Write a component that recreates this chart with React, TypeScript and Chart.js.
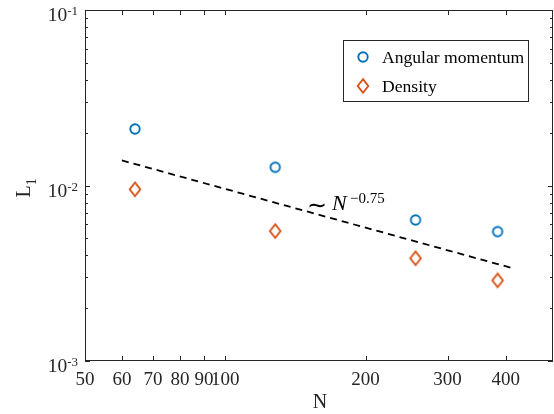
import { useEffect, useRef } from "react";
import { Chart, registerables } from "chart.js";
Chart.register(...registerables);

const N_VALUES = [64, 128, 256, 384];
const ANGULAR_MOMENTUM = [0.021, 0.0127, 0.00636, 0.00546];
const DENSITY = [0.00951, 0.0055, 0.00385, 0.00288];
const FIT_N = [60, 410];
const FIT_L1 = [0.0139, 0.0034];
const X_TICKS = [50, 60, 70, 80, 90, 100, 200, 300, 400];
const Y_TICKS = [0.001, 0.01, 0.1];
const Y_TICK_EXP = ["-3", "-2", "-1"];
const X_MIN = 50;
const X_MAX = 505;
const Y_MIN = 0.001;
const Y_MAX = 0.1;

const BLUE = "#0072BD";
const ORANGE = "#D95319";
const AXIS = "#262626";
const SERIF = "'Liberation Serif', 'Times New Roman', serif";

function makeDiamond(): HTMLCanvasElement {
  const c = document.createElement("canvas");
  c.width = 16;
  c.height = 18;
  const g = c.getContext("2d")!;
  g.strokeStyle = ORANGE;
  g.lineWidth = 1.9;
  g.beginPath();
  g.moveTo(8, 2.2);
  g.lineTo(13.3, 9);
  g.lineTo(8, 15.8);
  g.lineTo(2.7, 9);
  g.closePath();
  g.stroke();
  return c;
}

function makeCircle(): HTMLCanvasElement {
  const c = document.createElement("canvas");
  c.width = 14;
  c.height = 14;
  const g = c.getContext("2d")!;
  g.strokeStyle = BLUE;
  g.lineWidth = 1.9;
  g.beginPath();
  g.arc(7, 7, 4.7, 0, Math.PI * 2);
  g.stroke();
  return c;
}

export default function App() {
  const ref = useRef<HTMLCanvasElement | null>(null);

  useEffect(() => {
    document.body.style.margin = "0";
    const canvas = ref.current;
    if (!canvas) return;
    const diamond = makeDiamond();
    const circle = makeCircle();

    const decor = {
      id: "decor",
      afterDatasetsDraw(chart: any) {
        const ctx = chart.ctx as CanvasRenderingContext2D;
        const { left, right, top, bottom } = chart.chartArea;
        const xs = chart.scales.x;
        const ys = chart.scales.y;
        ctx.save();
        ctx.strokeStyle = AXIS;
        ctx.lineWidth = 1;
        ctx.strokeRect(left + 0.5, top + 0.5, right - left - 1, bottom - top - 1);
        // x ticks
        ctx.beginPath();
        for (const t of X_TICKS) {
          const px = Math.round(xs.getPixelForValue(t)) + 0.5;
          ctx.moveTo(px, bottom);
          ctx.lineTo(px, bottom - 5);
          ctx.moveTo(px, top);
          ctx.lineTo(px, top + 5);
        }
        // y ticks
        for (let d = -3; d <= -1; d++) {
          for (let m = 1; m <= 9; m++) {
            const v = m * Math.pow(10, d);
            if (v > Y_MAX * 1.0001) continue;
            const py = Math.round(ys.getPixelForValue(v)) + 0.5;
            const len = m === 1 ? 5 : 3;
            ctx.moveTo(left, py);
            ctx.lineTo(left + len, py);
            ctx.moveTo(right, py);
            ctx.lineTo(right - len, py);
          }
        }
        ctx.stroke();

        // x tick labels
        ctx.fillStyle = AXIS;
        ctx.font = `19px ${SERIF}`;
        ctx.textAlign = "center";
        ctx.textBaseline = "alphabetic";
        for (const t of X_TICKS) {
          ctx.fillText(String(t), xs.getPixelForValue(t), 385);
        }
        // y tick labels
        Y_TICKS.forEach((v, i) => {
          const py = ys.getPixelForValue(v);
          ctx.font = `13px ${SERIF}`;
          ctx.textAlign = "right";
          ctx.fillText(Y_TICK_EXP[i], 78, py + 5);
          const ew = ctx.measureText(Y_TICK_EXP[i]).width;
          ctx.font = `19.5px ${SERIF}`;
          ctx.fillText("10", 78 - ew, py + 11);
        });

        // axis titles
        ctx.textAlign = "center";
        ctx.font = `20px ${SERIF}`;
        ctx.fillText("N", 320, 408);
        ctx.save();
        ctx.translate(33, (top + bottom) / 2);
        ctx.rotate(-Math.PI / 2);
        ctx.textAlign = "left";
        ctx.font = `20px ${SERIF}`;
        ctx.fillText("L", -12, -3);
        const lw = ctx.measureText("L").width;
        ctx.font = `14px ${SERIF}`;
        ctx.fillText("1", -12 + lw, 3);
        ctx.restore();

        // annotation
        ctx.fillStyle = "#000";
        ctx.textAlign = "left";
        ctx.font = `24px ${SERIF}`;
        ctx.fillText("\u223C", 307, 213);
        ctx.font = `italic 22px ${SERIF}`;
        ctx.fillText("N", 332, 210);
        ctx.font = `15px ${SERIF}`;
        ctx.fillText("\u22120.75", 350, 203);

        // legend
        const lx = 343, ly = 40, lw2 = 185, lh = 61;
        ctx.fillStyle = "#fff";
        ctx.fillRect(lx, ly, lw2, lh);
        ctx.strokeStyle = AXIS;
        ctx.lineWidth = 1;
        ctx.strokeRect(lx + 0.5, ly + 0.5, lw2, lh);
        ctx.drawImage(circle, 363 - 7, 57 - 7);
        ctx.drawImage(diamond, 363 - 8, 86 - 9);
        ctx.fillStyle = "#000";
        ctx.font = `17.6px ${SERIF}`;
        ctx.textAlign = "left";
        ctx.fillText("Angular momentum", 382, 63);
        ctx.fillText("Density", 382, 92);
        ctx.restore();
      },
    };

    const chart = new Chart(canvas, {
      type: "scatter",
      data: {
        datasets: [
          {
            label: "Angular momentum",
            data: N_VALUES.map((n, i) => ({ x: n, y: ANGULAR_MOMENTUM[i] })),
            pointStyle: circle as any,
            pointRadius: 5,
          },
          {
            label: "Density",
            data: N_VALUES.map((n, i) => ({ x: n, y: DENSITY[i] })),
            pointStyle: diamond as any,
            pointRadius: 6,
          },
          {
            type: "line" as any,
            label: "fit",
            data: FIT_N.map((n, i) => ({ x: n, y: FIT_L1[i] })),
            borderColor: "#000",
            borderWidth: 1.8,
            borderDash: [7, 5],
            pointRadius: 0,
            showLine: true,
            fill: false,
          } as any,
        ],
      },
      options: {
        responsive: false,
        maintainAspectRatio: false,
        devicePixelRatio: 1,
        animation: false,
        layout: { autoPadding: false, padding: { left: 85, top: 10, right: 1, bottom: 53 } },
        plugins: { legend: { display: false }, tooltip: { enabled: false } },
        scales: {
          x: { type: "logarithmic", min: X_MIN, max: X_MAX, display: false },
          y: { type: "logarithmic", min: Y_MIN, max: Y_MAX, display: false },
        },
      },
      plugins: [decor],
    });
    return () => chart.destroy();
  }, []);

  return (
    <div style={{ position: "absolute", left: 0, top: 0, width: 554, height: 414, background: "#fff" }}>
      <canvas ref={ref} width={554} height={414} />
    </div>
  );
}
